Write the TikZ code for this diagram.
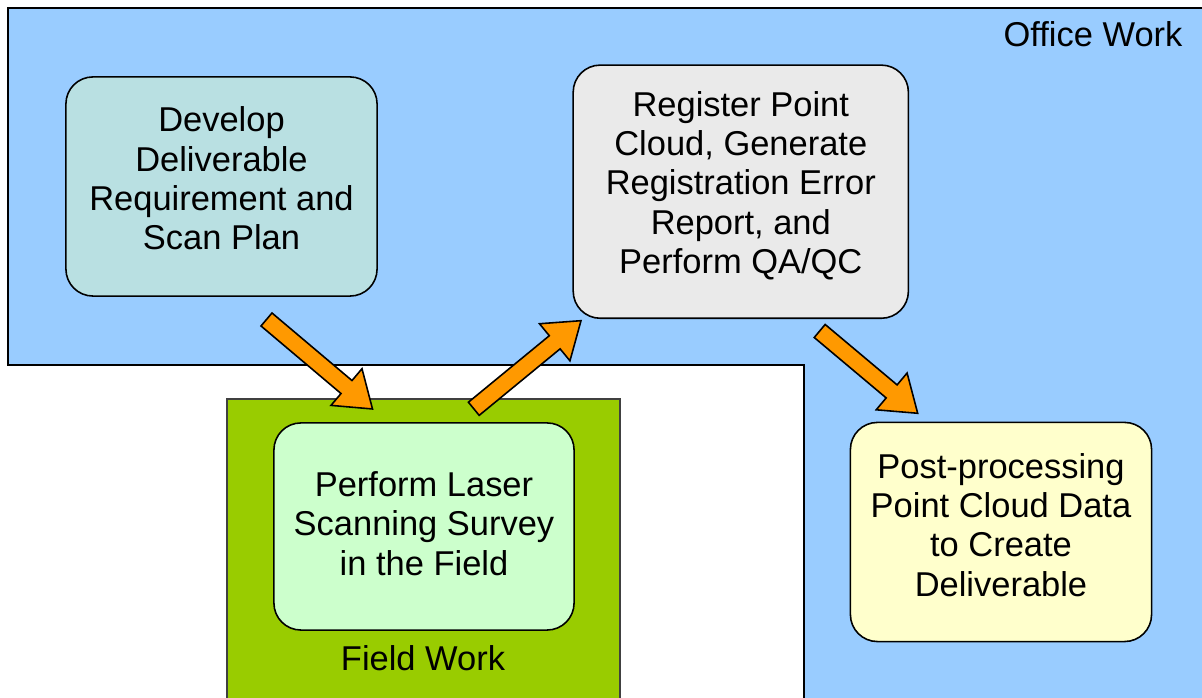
\documentclass[tikz,border=0pt]{standalone}
\usepackage{fontspec}
\setmainfont{Liberation Sans}
\usetikzlibrary{calc}
\definecolor{officeblue}{HTML}{99CCFF}
\definecolor{fieldgreen}{HTML}{99CC00}
\definecolor{arroworange}{HTML}{FF9900}
\definecolor{plancyan}{RGB}{185,224,226}
\definecolor{reggray}{HTML}{EAEAEA}
\definecolor{surveygreen}{HTML}{CCFFCC}
\definecolor{postyellow}{HTML}{FFFFCC}
\begin{document}
\begin{tikzpicture}[x=0.01cm,y=-0.01cm,inner sep=0pt,outer sep=0pt,line width=0.45pt,
font=\fontsize{9.8}{11.2}\selectfont,
stepbox/.style={draw,rectangle,rounded corners=0.27cm,line width=0.45pt},
steptext/.style={align=center},
bigarrow/.style={draw,fill=arroworange,line width=0.45pt,line join=miter}]

\useasboundingbox (0,0) rectangle (1202,698);

%%% Work areas %%%%%
\draw[fill=officeblue] (1230,8) -- (8,8) -- (8,365) -- (804,365) -- (804,730) -- (1230,730) -- cycle;
\draw[fill=fieldgreen,draw=black!75] (227,399) rectangle (620,730);
\draw (1093,34) node (office) {Office Work};
\draw (423,658) node (field) {Field Work};

%%% Steps
\draw (221.5,186.5) node[stepbox,fill=plancyan,minimum width=3.11cm,minimum height=2.19cm] (plan) {};
\draw (740.8,191.7) node[stepbox,fill=reggray,minimum width=3.35cm,minimum height=2.53cm] (register) {};
\draw (424,526.5) node[stepbox,fill=surveygreen,minimum width=3.00cm,minimum height=2.07cm] (survey) {};
\draw (1001,532) node[stepbox,fill=postyellow,minimum width=3.01cm,minimum height=2.19cm] (post) {};

	%%% Texts, a little above the box centres
	\node[steptext] (plan text) at ([yshift=0.08cm]plan.center) {Develop\\Deliverable\\Requirement and\\Scan Plan};
	\node[steptext] (register text) at ([yshift=0.06cm]register.center) {Register Point\\Cloud, Generate\\Registration Error\\Report, and\\Perform QA/QC};
	\node[steptext] (survey text) at ([yshift=0.03cm]survey.center) {Perform Laser\\Scanning Survey\\in the Field};
	\node[steptext] (post text) at ([yshift=0.07cm]post.center) {Post-processing\\Point Cloud Data\\to Create\\Deliverable};

%%% Arrow ends
	\coordinate (plan out) at (266.5,319.5);
	\coordinate (survey in) at (372.5,409);
	\coordinate (survey out) at (473.8,408.8);
	\coordinate (register in) at (581,320.7);
	\coordinate (register out) at (819.7,331);
	\coordinate (post in) at (917.7,413.3);

%%% Block arrows between the steps
\foreach \tl/\hd in {plan out/survey in,survey out/register in,register out/post in}{
	\coordinate (hb) at ($(\hd)!0.34cm!(\tl)$);
	\draw[bigarrow] ($(\tl)!0.085cm!90:(\hd)$) -- ($(hb)!0.085cm!-90:(\tl)$)
		-- ($(hb)!0.24cm!-90:(\tl)$) -- (\hd) -- ($(hb)!0.24cm!90:(\tl)$)
		-- ($(hb)!0.085cm!90:(\tl)$) -- ($(\tl)!0.085cm!-90:(\hd)$) -- cycle;
}

\end{tikzpicture}
\end{document}
